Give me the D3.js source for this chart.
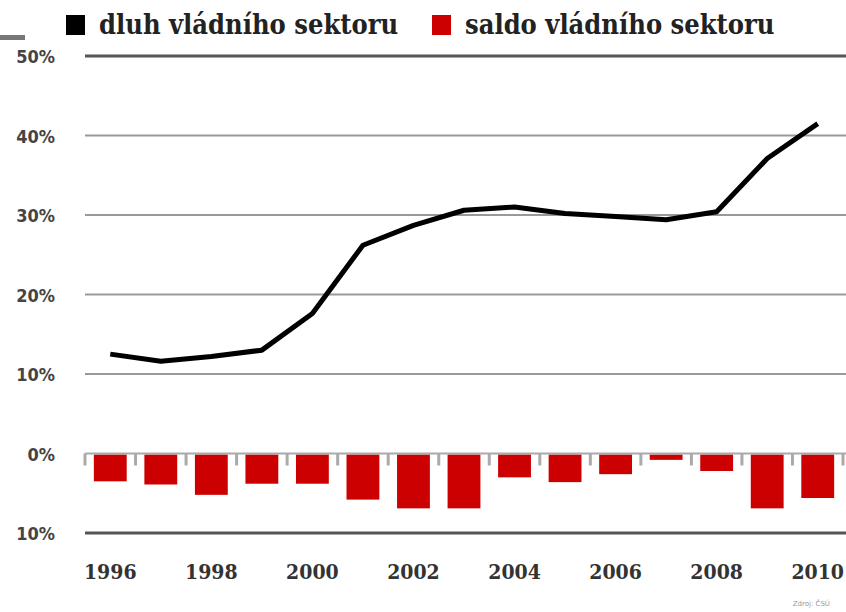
<!DOCTYPE html>
<html>
<head>
<meta charset="utf-8">
<script src="https://cdn.jsdelivr.net/npm/d3@7"></script>
<style>
  body { margin: 0; background: #fff; }
  svg { display: block; }
  .serif { font-family: "DejaVu Serif Condensed", "DejaVu Serif", serif; font-stretch: condensed; font-weight: bold; }
  .ylab { font-family: "Liberation Sans Narrow", "DejaVu Sans Condensed", sans-serif; font-weight: bold; fill: #444; }
</style>
</head>
<body>
<svg id="chart" width="846" height="612"></svg>
<script>
// DATA
var years = [1996, 1997, 1998, 1999, 2000, 2001, 2002, 2003, 2004, 2005, 2006, 2007, 2008, 2009, 2010];
var dluh = [12.5, 11.6, 12.2, 13.0, 17.6, 26.2, 28.7, 30.6, 31.0, 30.2, 29.8, 29.4, 30.4, 37.1, 41.5];
var saldo = [-3.5, -3.9, -5.2, -3.8, -3.8, -5.8, -6.9, -6.9, -3.0, -3.6, -2.6, -0.8, -2.2, -6.9, -5.6];
var y_ticks = [50, 40, 30, 20, 10, 0, -10];
var x_ticks = [1996, 1998, 2000, 2002, 2004, 2006, 2008, 2010];
var legend_items = ['dluh vládního sektoru', 'saldo vládního sektoru'];

var svg = d3.select('#chart');

var x = d3.scaleBand().domain(years).range([85, 843]).paddingInner(0.35).paddingOuter(0.175);
var y = d3.scaleLinear().domain([-10, 50]).range([533, 56]);

// gridlines
svg.append('g').selectAll('line')
    .data(y_ticks.filter(function(d) { return d !== 0; }))
    .join('line')
    .attr('x1', 85).attr('x2', 846)
    .attr('y1', function(d) { return y(d); })
    .attr('y2', function(d) { return y(d); })
    .attr('stroke', function(d) { return (d === 50 || d === -10) ? '#555' : '#999'; })
    .attr('stroke-width', function(d) { return (d === 50 || d === -10) ? 3 : 2; });

// y labels (negative shown without minus sign)
svg.append('g').selectAll('text')
    .data(y_ticks)
    .join('text')
    .attr('class', 'ylab')
    .attr('x', 55)
    .attr('y', function(d) { return y(d) + 7; })
    .attr('text-anchor', 'end')
    .attr('font-size', 18)
    .text(function(d) { return Math.abs(d) + '%'; });

// bars
svg.append('g').selectAll('rect')
    .data(years)
    .join('rect')
    .attr('x', function(d) { return x(d); })
    .attr('y', y(0) + 1)
    .attr('width', x.bandwidth())
    .attr('height', function(d, i) { return y(saldo[i]) - y(0) - 1; })
    .attr('fill', '#cc0000');

// zero axis with ticks between bars
var step = x.step();
svg.append('line')
    .attr('x1', 85).attr('x2', 846)
    .attr('y1', y(0)).attr('y2', y(0))
    .attr('stroke', '#aaa').attr('stroke-width', 2);
svg.append('g').selectAll('line')
    .data(d3.range(years.length + 1))
    .join('line')
    .attr('x1', function(i) { return 85 + i * step; })
    .attr('x2', function(i) { return 85 + i * step; })
    .attr('y1', y(0)).attr('y2', y(0) + 12)
    .attr('stroke', '#aaa').attr('stroke-width', 3);

// debt line
var line = d3.line()
    .x(function(d, i) { return x(years[i]) + x.bandwidth() / 2; })
    .y(function(d) { return y(d); });
svg.append('path')
    .datum(dluh)
    .attr('d', line)
    .attr('fill', 'none')
    .attr('stroke', '#000')
    .attr('stroke-width', 5)
    .attr('stroke-linejoin', 'round');

// x labels
svg.append('g').selectAll('text')
    .data(x_ticks)
    .join('text')
    .attr('class', 'serif')
    .attr('x', function(d) { return x(d) + x.bandwidth() / 2; })
    .attr('y', 579)
    .attr('text-anchor', 'middle')
    .attr('font-size', 21)
    .attr('fill', '#333')
    .text(function(d) { return d; });

// legend
svg.append('rect').attr('x', 0).attr('y', 35).attr('width', 25).attr('height', 5).attr('fill', '#777');
var lg = [{ x: 66, c: '#000' }, { x: 432, c: '#cc0000' }];
lg.forEach(function(l, i) {
    svg.append('rect').attr('x', l.x).attr('y', 15).attr('width', 19).attr('height', 20).attr('fill', l.c);
    svg.append('text')
        .attr('class', 'serif')
        .attr('x', l.x + 33)
        .attr('y', 34)
        .attr('font-size', 27)
        .attr('fill', '#222')
        .text(legend_items[i]);
});

// source
svg.append('text')
    .attr('x', 830).attr('y', 606)
    .attr('text-anchor', 'end')
    .attr('font-family', 'DejaVu Sans')
    .attr('font-size', 7)
    .attr('fill', '#999')
    .text('Zdroj: ČSÚ');
</script>
</body>
</html>
